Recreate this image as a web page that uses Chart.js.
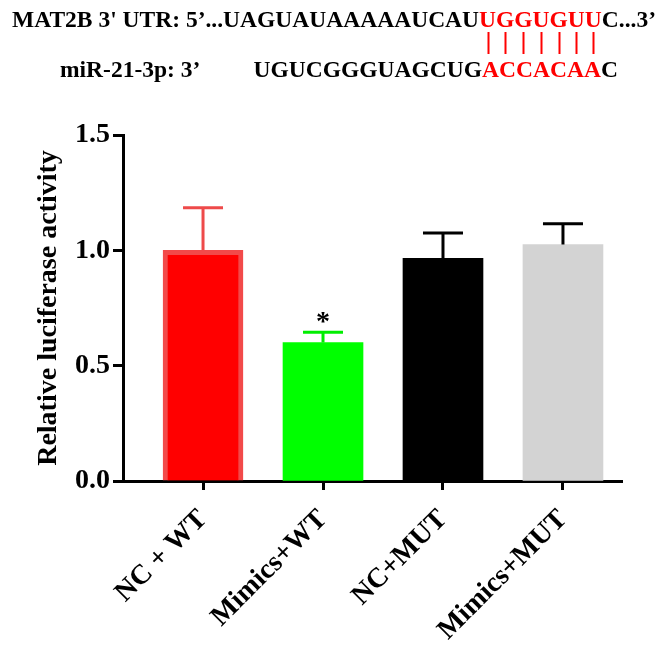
<!DOCTYPE html>
<html>
<head>
<meta charset="utf-8">
<script src="https://cdn.jsdelivr.net/npm/chart.js@4/dist/chart.umd.min.js"></script>
<style>
html, body { margin:0; padding:0; background:#fff; }
#wrap { position:relative; width:666px; height:647px; }
</style>
</head>
<body>
<div id="wrap"><canvas id="luciferaseChart" width="666" height="647"></canvas></div>
<script>
/* ===========================
   DATA
=========================== */
const categories = ["NC + WT", "Mimics+WT", "NC+MUT", "Mimics+MUT"];
const activity = [1.0, 0.60, 0.965, 1.025];
const errorTop = [1.185, 0.645, 1.075, 1.115];
const significance = ["", "*", "", ""];
const yTicks = [0, 0.5, 1.0, 1.5];

const barColors = ["#ff0000", "#00ff00", "#000000", "#d3d3d3"];
const barBorders = ["#f24a4a", "#00ff00", "#000000", "#d3d3d3"];
const errorColors = ["#ee4a4a", "#00ee00", "#000000", "#000000"];

// sequence header
const utrLabel = "MAT2B 3' UTR: 5’...UAGUAUAAAAAUCAU";
const utrSeed = "UGGUGUU";
const utrTail = "C...3’";
const mirLabel = "miR-21-3p: 3’";
const mirHead = "UGUCGGGUAGCUG";
const mirSeed = "ACCACAA";
const mirTail = "C";

const SERIF = "'Liberation Serif', 'Times New Roman', serif";
const RED = "#ff0000";

/* ===========================
   ERROR BARS + STAR
=========================== */
const errorBarPlugin = {
    id: "errorBars",
    afterDatasetsDraw(chart){
        const ctx = chart.ctx;
        const y = chart.scales.y;
        const meta = chart.getDatasetMeta(0);
        meta.data.forEach((bar, i) => {
            const yCap = y.getPixelForValue(errorTop[i]);
            ctx.save();
            ctx.strokeStyle = errorColors[i];
            ctx.lineWidth = 3;
            ctx.beginPath();
            ctx.moveTo(bar.x, bar.y);
            ctx.lineTo(bar.x, yCap);
            ctx.moveTo(bar.x - 20, yCap);
            ctx.lineTo(bar.x + 20, yCap);
            ctx.stroke();
            if(significance[i]){
                ctx.fillStyle = "#000";
                ctx.font = "bold 28px " + SERIF;
                ctx.textAlign = "center";
                ctx.textBaseline = "alphabetic";
                ctx.fillText(significance[i], bar.x, yCap - 2);
            }
            ctx.restore();
        });
    }
};

/* ===========================
   SEQUENCE HEADER
=========================== */
const headerPlugin = {
    id: "seqHeader",
    afterDraw(chart){
        const ctx = chart.ctx;
        ctx.save();
        ctx.font = "bold 23px " + SERIF;
        ctx.textBaseline = "alphabetic";
        ctx.textAlign = "left";

        const w = t => ctx.measureText(t).width;
        const total = w(utrLabel) + w(utrSeed) + w(utrTail);
        const sx = (656 - 12) / total;

        // line 1
        let x = 12;
        const line1 = [[utrLabel, "#000"], [utrSeed, RED], [utrTail, "#000"]];
        const seedStart = 12 + w(utrLabel) * sx;
        line1.forEach(([t, c]) => {
            ctx.save();
            ctx.translate(x, 27);
            ctx.scale(sx, 1);
            ctx.fillStyle = c;
            ctx.fillText(t, 0, 0);
            ctx.restore();
            x += w(t) * sx;
        });

        // pairing lines
        ctx.strokeStyle = RED;
        ctx.lineWidth = 2;
        let lx = seedStart;
        for(const ch of utrSeed){
            const cw = w(ch) * sx;
            const cx = Math.round(lx + cw / 2) + 0.5;
            ctx.beginPath();
            ctx.moveTo(cx, 32);
            ctx.lineTo(cx, 54);
            ctx.stroke();
            lx += cw;
        }

        // line 2
        const draw = (t, px, c) => {
            ctx.save();
            ctx.translate(px, 77);
            ctx.scale(sx, 1);
            ctx.fillStyle = c;
            ctx.fillText(t, 0, 0);
            ctx.restore();
        };
        draw(mirLabel, 60, "#000");
        const seed2 = seedStart + 3;
        draw(mirHead, seed2 - w(mirHead) * sx, "#000");
        draw(mirSeed, seed2, RED);
        draw(mirTail, seed2 + w(mirSeed) * sx, "#000");
        ctx.restore();
    }
};

/* ===========================
   BAR CHART
=========================== */
const canvas = document.getElementById("luciferaseChart");

new Chart(canvas, {
    type: "bar",
    data: {
        datasets: [
            {
                data: categories.map((c, i) => ({ x: i, y: activity[i] })),
                backgroundColor: barColors,
                borderColor: barBorders,
                borderWidth: [5, 0, 0, 0],
                borderSkipped: "bottom",
                barThickness: 80
            }
        ]
    },
    options: {
        responsive: false,
        animation: false,
        devicePixelRatio: 1,
        layout: {
            padding: { top: 135, right: 44, left: 0, bottom: 0 }
        },
        plugins: {
            legend: { display: false },
            tooltip: { enabled: false }
        },
        scales: {
            x: {
                type: "linear",
                min: -0.667,
                max: 3.492,
                offset: false,
                afterBuildTicks: s => { s.ticks = categories.map((c, i) => ({ value: i })); },
                afterFit: s => { s.height = 166; },
                grid: {
                    offset: false,
                    drawOnChartArea: false,
                    drawTicks: true,
                    tickLength: 9,
                    tickWidth: 3,
                    color: "#000"
                },
                border: { width: 3, color: "#000" },
                ticks: {
                    autoSkip: false,
                    minRotation: 45,
                    maxRotation: 45,
                    padding: 13,
                    color: "#000",
                    font: { family: SERIF, size: 28, weight: "bold" },
                    callback: v => categories[v]
                }
            },
            y: {
                min: 0,
                max: 1.5,
                afterBuildTicks: s => { s.ticks = yTicks.map(v => ({ value: v })); },
                afterFit: s => { s.width = 123; },
                grid: {
                    drawOnChartArea: false,
                    drawTicks: true,
                    tickLength: 10,
                    tickWidth: 3,
                    color: "#000"
                },
                border: { width: 3, color: "#000" },
                ticks: {
                    padding: 3,
                    color: "#000",
                    font: { family: SERIF, size: 28, weight: "bold" },
                    callback: v => v.toFixed(1)
                },
                title: {
                    display: true,
                    text: "Relative luciferase activity",
                    color: "#000",
                    font: { family: SERIF, size: 28, weight: "bold" },
                    padding: { top: 32, bottom: 0 }
                }
            }
        }
    },
    plugins: [errorBarPlugin, headerPlugin]
});
</script>
</body>
</html>
